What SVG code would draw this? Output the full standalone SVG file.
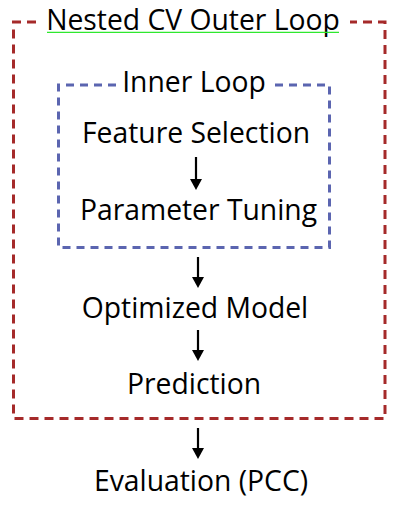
<svg xmlns="http://www.w3.org/2000/svg" width="403" height="515" viewBox="0 0 403 515">
<defs>
<style>
.t{font-family:"Open Sans","Noto Sans","Liberation Sans",sans-serif;font-size:28.3px;fill:#000;text-anchor:middle}
.outer{fill:none;stroke:#a52a2a;stroke-width:3;stroke-dasharray:9 6}
.inner{fill:none;stroke:#5b65b0;stroke-width:3;stroke-dasharray:8 6}
.arr{stroke:#000;stroke-width:2.2;fill:none;marker-end:url(#ah)}
</style>
<marker id="ah" markerUnits="userSpaceOnUse" markerWidth="13" markerHeight="13" viewBox="0 0 13 13" refX="1" refY="6.5" orient="auto">
<path d="M0,0.5 L11,6.5 L0,12.5 Z" fill="#000"/>
</marker>
</defs>
<rect width="403" height="515" fill="#fff"/>
<g id="outer-loop">
<path class="outer" d="M36,22 H13.5 V418.5 H385 V22 H350"/>
<text class="t" x="193" y="30">Nested CV Outer Loop</text>
<line x1="47" y1="32.3" x2="339" y2="32.3" stroke="#2ee82e" stroke-width="1.3"/>
</g>
<g id="inner-loop">
<path class="inner" d="M116,85 H58.5 V247.5 H329.5 V85 H272"/>
<text class="t" x="194" y="92">Inner Loop</text>
</g>
<g id="feature-selection"><text class="t" x="196" y="143">Feature Selection</text></g>
<g id="parameter-tuning"><text class="t" x="198.5" y="220">Parameter Tuning</text></g>
<g id="optimized-model"><text class="t" x="195" y="318">Optimized Model</text></g>
<g id="prediction"><text class="t" x="194" y="394">Prediction</text></g>
<g id="evaluation"><text class="t" x="201" y="491">Evaluation (PCC)</text></g>
<g id="connectors">
<line class="arr" x1="196" y1="157" x2="196" y2="180"/>
<line class="arr" x1="198" y1="257" x2="198" y2="278"/>
<line class="arr" x1="198" y1="330" x2="198" y2="351"/>
<line class="arr" x1="198" y1="428" x2="198" y2="449"/>
</g>
</svg>
